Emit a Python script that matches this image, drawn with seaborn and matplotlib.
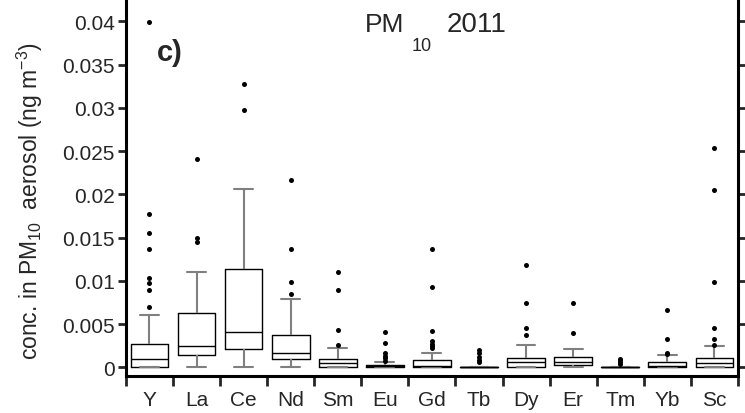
import numpy as np
import pandas as pd
import matplotlib
matplotlib.use("Agg")
import matplotlib.pyplot as plt
import seaborn as sns
from matplotlib.ticker import FixedLocator, FuncFormatter

elements = ["Y", "La", "Ce", "Nd", "Sm", "Eu", "Gd", "Tb", "Dy", "Er", "Tm", "Yb", "Sc"]
whisker_low = [0, 0, 0, 0, 0, 0, 0, 0, 0, 0, 0, 0, 0]
q1 = [0, 0.00139, 0.00215, 0.00093, 0, 0, 0, 0, 0, 0.00027, 0, 0, 0]
median = [0.00093, 0.00243, 0.00405, 0.00162, 0.00046, 0.0001, 0.0002, 0, 0.00065, 0.00065, 0, 0.0002, 0.0005]
q3 = [0.0027, 0.00632, 0.01134, 0.0037, 0.00093, 0.00023, 0.00081, 0, 0.00104, 0.00116, 0, 0.00058, 0.00104]
whisker_high = [0.0060, 0.01103, 0.0206, 0.00787, 0.0022, 0.00058, 0.00169, 0, 0.00258, 0.00212, 0, 0.00142, 0.0025]

outliers = {
    "Y": [0.0399, 0.01774, 0.0155, 0.01365, 0.01037, 0.00972, 0.00894, 0.00701],
    "La": [0.02407, 0.01493, 0.01446],
    "Ce": [0.03282, 0.0298],
    "Nd": [0.02164, 0.01365, 0.00983, 0.00852],
    "Sm": [0.01103, 0.00894, 0.00428, 0.00258],
    "Eu": [0.00408, 0.00281, 0.00162, 0.00135, 0.00108, 0.00077],
    "Gd": [0.01369, 0.00933, 0.0042, 0.0030, 0.0027, 0.0025, 0.00223],
    "Tb": [0.0020, 0.00162, 0.00123, 0.00085, 0.00058],
    "Dy": [0.01187, 0.00748, 0.00459, 0.00374],
    "Er": [0.0074, 0.00393],
    "Tm": [0.0010, 0.0008, 0.0006, 0.0004],
    "Yb": [0.00667, 0.00327, 0.00165, 0.0015],
    "Sc": [0.02534, 0.02052, 0.00983, 0.00455, 0.00327, 0.00258],
}

yticks = [0, 0.005, 0.01, 0.015, 0.02, 0.025, 0.03, 0.035, 0.04]

# five-number summaries -> 5-point samples whose quartiles reproduce the stats exactly
box_rows = []
for i, el in enumerate(elements):
    for v in (whisker_low[i], q1[i], median[i], q3[i], whisker_high[i]):
        box_rows.append((el, v))
box_df = pd.DataFrame(box_rows, columns=["element", "conc"])
out_df = pd.DataFrame([(el, v) for el in elements for v in outliers[el]],
                      columns=["element", "conc"])

sns.set_style("ticks")
plt.rcParams["font.family"] = ["Liberation Sans", "DejaVu Sans"]
plt.rcParams["mathtext.fontset"] = "custom"
plt.rcParams["mathtext.rm"] = "Liberation Sans"
plt.rcParams["mathtext.it"] = "Liberation Sans"
plt.rcParams["mathtext.default"] = "regular"

fig = plt.figure(figsize=(7.45, 4.14), dpi=100)
ax = fig.add_axes([0.169, 0.0894, 0.8215, 0.9106])

sns.boxplot(data=box_df, x="element", y="conc", order=elements, ax=ax,
            whis=(0, 100), showfliers=False, width=0.8, fill=False,
            color="black", linewidth=1.0,
            boxprops=dict(color="black", linewidth=1.0),
            medianprops=dict(color="black", linewidth=1.0),
            whiskerprops=dict(color="#808080", linewidth=1.5),
            capprops=dict(color="#808080", linewidth=1.5))
sns.stripplot(data=out_df, x="element", y="conc", order=elements, ax=ax,
              jitter=False, color="black", size=3.6, linewidth=0)

ax.set_xlim(-0.5, 12.5)
ax.set_ylim(-0.001, 0.0426)
ax.set_xlabel("")
ax.set_ylabel("conc. in PM$_{10}$  aerosol (ng m$^{-3}$)", fontsize=16.5)
ax.yaxis.set_label_coords(-0.132, 0.467)

ax.yaxis.set_major_locator(FixedLocator(yticks))
ax.yaxis.set_major_formatter(FuncFormatter(lambda v, p: "0" if v == 0 else f"{v:g}"))
ax.tick_params(axis="y", which="major", labelsize=15, length=6, width=2,
               direction="out", right=True, labelright=False, pad=2)
ax.tick_params(axis="x", which="major", labelsize=15, length=0, pad=10)
ax.xaxis.set_minor_locator(FixedLocator(np.arange(-0.5, 13, 1.0)))
ax.tick_params(axis="x", which="minor", length=7, width=2, direction="out")

for side in ("left", "bottom", "right"):
    ax.spines[side].set_linewidth(2.2)
    ax.spines[side].set_color("black")
ax.spines["top"].set_visible(False)

# title: PM with lowered subscript 10, then 2011
ax.text(0.39, 0.915, "PM", transform=ax.transAxes, ha="left", va="baseline", fontsize=19)
ax.text(0.467, 0.866, "10", transform=ax.transAxes, ha="left", va="baseline", fontsize=13)
ax.text(0.5245, 0.915, "2011", transform=ax.transAxes, ha="left", va="baseline", fontsize=20)
ax.text(0.05, 0.86, "c)", transform=ax.transAxes, ha="left", va="center",
        fontsize=21, fontweight="bold")

fig.savefig("out.png", dpi=100)
